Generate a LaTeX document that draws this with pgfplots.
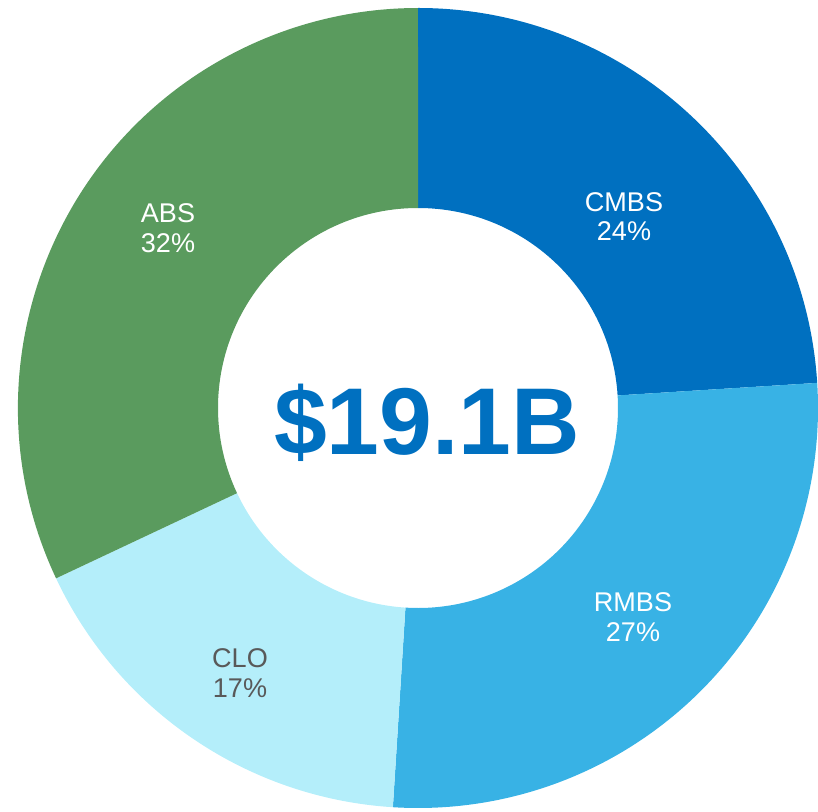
\documentclass[border=0pt]{standalone}
\usepackage{fontspec}
\setmainfont{Liberation Sans}
\usepackage{pgfplots}
\usepackage{pgfplotstable}
\pgfplotsset{compat=1.18}
\definecolor{cmbs}{HTML}{0070C0}
\definecolor{rmbs}{HTML}{38B2E5}
\definecolor{clo}{HTML}{B4EEFA}
\definecolor{abs}{HTML}{5A9B5E}
\definecolor{darktxt}{HTML}{595959}

% share of issuance, clockwise from 12 o'clock; lx/ly = label position
\pgfplotstableread{
label value fill txt lx ly
CMBS  24    cmbs white 2.06 1.915
RMBS  27    rmbs white 2.15 -2.09
CLO   17    clo  darktxt -1.78 -2.65
ABS   32    abs  white -2.50 1.80
}\piedata

\begin{document}
\begin{tikzpicture}
\begin{axis}[
  anchor=origin, at={(0,0)},
  x=1cm, y=1cm,
  xmin=-4.18, xmax=4.0,
  ymin=-4.03, ymax=4.08,
  hide axis,
  clip=false,
]
\pgfplotsextra{%
  \gdef\cum{0}%
  \foreach \i in {0,...,3}{%
    \pgfplotstablegetelem{\i}{value}\of\piedata \let\v\pgfplotsretval
    \pgfplotstablegetelem{\i}{fill}\of\piedata \let\c\pgfplotsretval
    \pgfplotstablegetelem{\i}{txt}\of\piedata \let\tc\pgfplotsretval
    \pgfplotstablegetelem{\i}{label}\of\piedata \let\lab\pgfplotsretval
    \pgfplotstablegetelem{\i}{lx}\of\piedata \let\lx\pgfplotsretval
    \pgfplotstablegetelem{\i}{ly}\of\piedata \let\ly\pgfplotsretval
    \pgfmathsetmacro\a{90-3.6*\cum}%
    \pgfmathsetmacro\b{90-3.6*(\cum+\v)}%
    \fill[\c] (axis cs:{4*cos(\a)},{4*sin(\a)})
      arc[start angle=\a, end angle=\b, radius=4cm]
      -- (axis cs:{2*cos(\b)},{2*sin(\b)})
      arc[start angle=\b, end angle=\a, radius=2cm] -- cycle;
    \node[text=\tc, align=center, font=\fontsize{7.7}{8.4}\selectfont]
      at (axis cs:\lx,\ly) {\lab\\\v\%};
    \pgfmathsetmacro\newcum{\cum+\v}%
    \xdef\cum{\newcum}%
  }
  \node[text=cmbs, font=\fontsize{27}{30}\selectfont\bfseries]
    at (axis cs:0.09,-0.15) {\$19.1B};
}
\end{axis}
\pgfresetboundingbox
\path[use as bounding box] (-4.18,-4.03) rectangle (4.0,4.08);
\end{tikzpicture}
\end{document}
